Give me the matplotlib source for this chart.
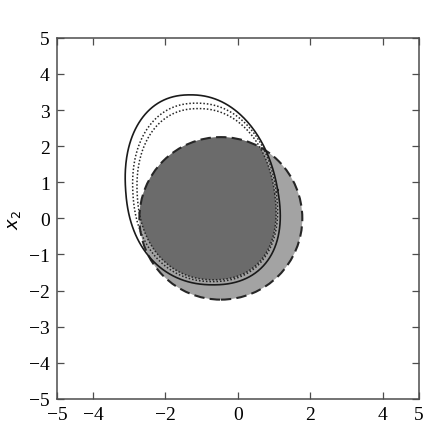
import numpy as np
import matplotlib.pyplot as plt
from matplotlib.patches import Circle, Polygon

# contours: center x, center y, half width, half height, squareness, shear, egg factor
solid = [-1.00, 0.79, 2.10, 2.63, 2.22, -0.12, 0.07]
dotted_outer = [-0.92, 0.72, 1.98, 2.47, 2.2, -0.09, 0.05]
dotted_inner = [-0.88, 0.67, 1.90, 2.37, 2.2, -0.09, 0.05]
# shaded disc: center x, center y, radius
disc = [-0.47, 0.0, 2.25]

xticks = [-5, -4, -2, 0, 2, 4, 5]
yticks = [-5, -4, -3, -2, -1, 0, 1, 2, 3, 4, 5]


def contour(p):
    cx, cy, a, b, n, k, e = p
    t = np.linspace(0, 2 * np.pi, 400)
    c, s = np.cos(t), np.sin(t)
    u = a * np.sign(c) * np.abs(c) ** (2 / n)
    v = b * np.sign(s) * np.abs(s) ** (2 / n)
    u = u * (1 - e * v / b)
    return cx + u + k * v, cy + v


plt.rcParams["font.family"] = ["Liberation Serif", "DejaVu Serif"]
plt.rcParams["font.size"] = 14

fig = plt.figure(figsize=(4.24, 4.31), dpi=100)
ax = fig.add_axes([0.134, 0.072, 0.854, 0.838])

# light gray disc
c = Circle((disc[0], disc[1]), disc[2], facecolor="0.64", edgecolor="none", zorder=1)
ax.add_patch(c)
# darker overlap of disc and dotted region
xi, yi = contour(dotted_inner)
dark = Polygon(np.column_stack([xi, yi]), closed=True, facecolor="0.42",
               edgecolor="none", zorder=2)
ax.add_patch(dark)
dark.set_clip_path(c)
ax.add_patch(Circle((disc[0], disc[1]), disc[2], facecolor="none", edgecolor="0.15",
                    linestyle=(0, (5, 2.5)), linewidth=1.5, zorder=4))

xs, ys = contour(solid)
ax.plot(xs, ys, color="0.1", linewidth=1.2, zorder=5)
for p in (dotted_outer, dotted_inner):
    xd, yd = contour(p)
    ax.plot(xd, yd, color="0.15", linestyle=(0, (1, 1.3)), linewidth=1.1, zorder=5)

ax.set_xlim(-5, 5)
ax.set_ylim(-5, 5)
ax.set_xticks(xticks)
ax.set_yticks(yticks)
ax.set_xticklabels(["\u2212%d" % -t if t < 0 else str(t) for t in xticks])
ax.set_yticklabels(["\u2212%d" % -t if t < 0 else str(t) for t in yticks])
ax.tick_params(direction="in", top=True, right=True, length=5, width=0.9,
               color="0.3", pad=5)
for s in ax.spines.values():
    s.set_color("0.3")
    s.set_linewidth(1.1)

fig.text(0.035, 0.49, r"$x_2$", rotation=90, va="center", ha="center", fontsize=13)

fig.savefig("out.png", dpi=100)
